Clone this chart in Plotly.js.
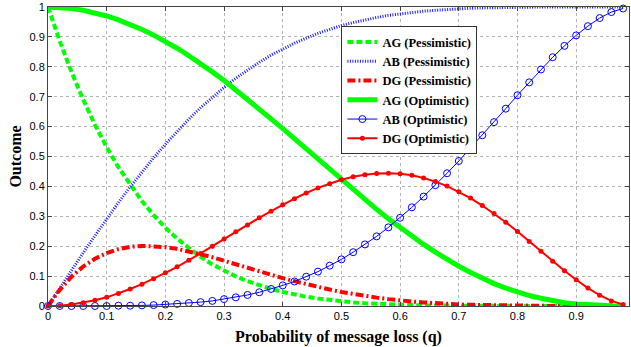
<!DOCTYPE html>
<html>
<head>
<meta charset="utf-8">
<script src="https://cdn.plot.ly/plotly-3.0.1.min.js"></script>
<style>html,body{margin:0;padding:0;background:#fff;}#chart{width:631px;height:347px;}</style>
</head>
<body>
<div id="chart"></div>
<script>
// Probability of message loss (q)
var q = [0,0.02,0.04,0.06,0.08,0.10,0.12,0.14,0.16,0.18,0.20,0.22,0.24,0.26,0.28,0.30,0.32,0.34,0.36,0.38,0.40,0.42,0.44,0.46,0.48,0.50,0.52,0.54,0.56,0.58,0.60,0.62,0.64,0.66,0.68,0.70,0.72,0.74,0.76,0.78,0.80,0.82,0.84,0.86,0.88,0.90,0.92,0.94,0.96,0.98];

var agPess = [1,0.886,0.783,0.690,0.606,0.531,0.464,0.405,0.351,0.304,0.262,0.225,0.193,0.164,0.139,0.118,0.099,0.083,0.069,0.057,0.047,0.038,0.031,0.025,0.020,0.016,0.012,0.009,0.007,0.005,0.004,0.003,0.002,0.002,0.001,0.001,0,0,0,0,0,0,0,0,0,0,0,0,0,0];
var abPess = [0,0.060,0.119,0.178,0.235,0.291,0.346,0.398,0.448,0.496,0.541,0.584,0.625,0.663,0.698,0.731,0.762,0.790,0.815,0.839,0.860,0.879,0.896,0.912,0.925,0.938,0.948,0.957,0.965,0.972,0.977,0.982,0.986,0.989,0.992,0.994,0.996,0.997,0.998,0.999,0.999,1,1,1,1,1,1,1,1,1];
var dgPess = [0,0.054,0.098,0.132,0.158,0.177,0.190,0.198,0.201,0.200,0.197,0.191,0.183,0.173,0.163,0.151,0.140,0.128,0.116,0.104,0.093,0.083,0.073,0.063,0.055,0.047,0.040,0.033,0.028,0.023,0.018,0.015,0.012,0.009,0.007,0.005,0.004,0.003,0.002,0.001,0.001,0,0,0,0,0,0,0,0,0];
var agOpt = [1,0.999,0.995,0.989,0.981,0.970,0.957,0.942,0.925,0.906,0.885,0.862,0.837,0.811,0.783,0.754,0.723,0.692,0.659,0.626,0.593,0.559,0.524,0.490,0.456,0.422,0.388,0.356,0.323,0.292,0.262,0.233,0.206,0.180,0.155,0.133,0.112,0.093,0.075,0.060,0.047,0.035,0.026,0.018,0.011,0.007,0.004,0.002,0.001,0];
var abOpt = [0,0,0,0,0,0,0.001,0.001,0.002,0.003,0.005,0.007,0.010,0.013,0.017,0.023,0.029,0.037,0.046,0.057,0.069,0.082,0.098,0.115,0.135,0.156,0.180,0.206,0.233,0.263,0.295,0.330,0.366,0.404,0.444,0.485,0.528,0.571,0.615,0.660,0.705,0.748,0.791,0.832,0.870,0.905,0.936,0.963,0.983,0.995];
var dgOpt = [0,0.001,0.005,0.011,0.019,0.029,0.042,0.057,0.073,0.091,0.111,0.131,0.153,0.176,0.200,0.224,0.248,0.271,0.295,0.317,0.339,0.359,0.378,0.395,0.409,0.422,0.432,0.439,0.443,0.444,0.442,0.437,0.428,0.416,0.401,0.382,0.361,0.336,0.309,0.280,0.249,0.216,0.183,0.150,0.118,0.088,0.060,0.036,0.017,0.005];

var seriesNames = ['AG (Pessimistic)','AB (Pessimistic)','DG (Pessimistic)','AG (Optimistic)','AB (Optimistic)','DG (Optimistic)'];
var xTicks = [0,0.1,0.2,0.3,0.4,0.5,0.6,0.7,0.8,0.9];
var yTicks = [0,0.1,0.2,0.3,0.4,0.5,0.6,0.7,0.8,0.9,1];
var xTickText = ['0','0.1','0.2','0.3','0.4','0.5','0.6','0.7','0.8','0.9'];
var yTickText = ['0','0.1','0.2','0.3','0.4','0.5','0.6','0.7','0.8','0.9','1'];

var traces = [
  {x:q, y:agPess, name:seriesNames[0], mode:'lines', line:{color:'#00ff00', width:4, dash:'6px,3px'}},
  {x:q, y:abPess, name:seriesNames[1], mode:'lines', line:{color:'#1a1aff', width:3, dash:'1px,1.5px'}},
  {x:q, y:dgPess, name:seriesNames[2], mode:'lines', line:{color:'#ff0000', width:4, dash:'8px,3px,2px,3px'}},
  {x:q, y:agOpt, name:seriesNames[3], mode:'lines', line:{color:'#00ff00', width:5}},
  {x:q, y:abOpt, name:seriesNames[4], mode:'lines+markers', cliponaxis:false, line:{color:'#0000ff', width:1},
   marker:{symbol:'circle-open', size:7, color:'#0000ff', line:{width:1, color:'#0000ff'}}},
  {x:q, y:dgOpt, name:seriesNames[5], mode:'lines+markers', cliponaxis:false, line:{color:'#ff0000', width:2},
   marker:{symbol:'circle', size:5, color:'#ff0000'}}
];

var axisCommon = {
  showline:true, mirror:'ticks', linecolor:'#444', linewidth:1,
  ticks:'inside', ticklen:4, tickcolor:'#444',
  showgrid:true, gridcolor:'#b4b4b4', griddash:'dot', gridwidth:1,
  zeroline:false,
  tickfont:{family:'Liberation Sans, Arial, sans-serif', size:11, color:'#000'}
};

var layout = {
  width:631, height:347,
  margin:{l:48, r:2, t:7, b:41},
  paper_bgcolor:'#fff', plot_bgcolor:'#fff',
  showlegend:true,
  xaxis: Object.assign({}, axisCommon, {
    range:[0,0.99], tickmode:'array', tickvals:xTicks, ticktext:xTickText,
    title:{text:'Probability of message loss (q)', standoff:9,
      font:{family:'Liberation Serif, Times New Roman, serif', size:16, color:'#000', weight:'bold'}}
  }),
  yaxis: Object.assign({}, axisCommon, {
    range:[0,1], tickmode:'array', tickvals:yTicks, ticktext:yTickText,
    title:{text:'Outcome', standoff:3,
      font:{family:'Liberation Serif, Times New Roman, serif', size:16, color:'#000', weight:'bold'}}
  }),
  legend:{
    x:0.505, y:0.935, xanchor:'left', yanchor:'top',
    bgcolor:'#fff', bordercolor:'#333', borderwidth:1,
    font:{family:'Liberation Serif, Times New Roman, serif', size:12.5, color:'#000', weight:'bold'},
    itemwidth:30, tracegroupgap:0
  }
};

Plotly.newPlot('chart', traces, layout, {staticPlot:true, displayModeBar:false});
</script>
</body>
</html>
